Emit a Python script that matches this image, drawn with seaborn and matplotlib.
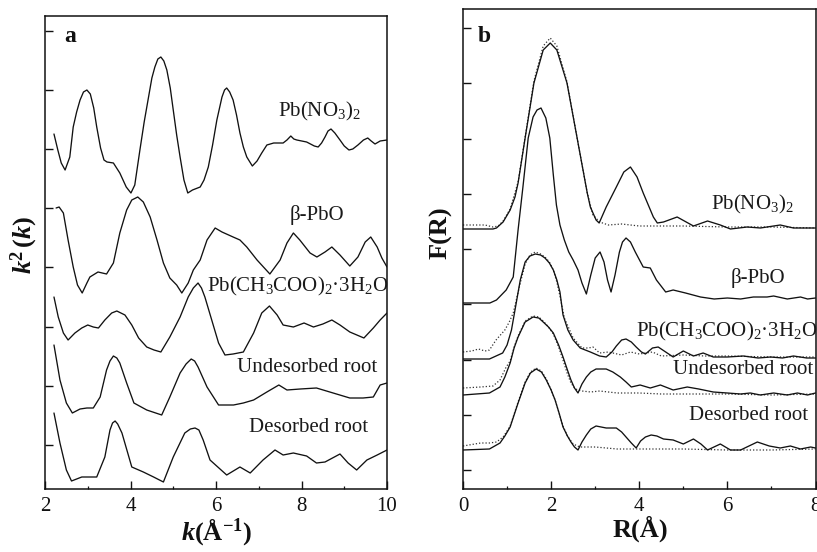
import matplotlib
matplotlib.use("Agg")
import matplotlib.pyplot as plt
import seaborn as sns
from matplotlib.ticker import FixedLocator, MultipleLocator

# ---------------- panel a : k^2 chi(k), stacked (arbitrary units) ----------------
K_NO3 = [2.21,2.30,2.38,2.47,2.58,2.66,2.74,2.82,2.90,2.98,3.06,3.14,3.21,3.30,3.38,3.45,3.60,3.75,3.90,4.01,
         4.10,4.22,4.32,4.41,4.50,4.57,4.64,4.71,4.78,4.85,4.93,5.00,5.08,5.16,5.25,5.34,5.45,5.63,5.72,5.82,
         5.92,6.02,6.14,6.20,6.25,6.32,6.40,6.48,6.56,6.64,6.72,6.85,6.96,7.07,7.19,7.35,7.57,7.66,7.75,7.82,
         7.89,8.12,8.30,8.39,8.47,8.55,8.62,8.69,8.78,8.90,9.00,9.11,9.20,9.32,9.45,9.55,9.63,9.72,9.84,10.0]
A_NO3 = [36.6,35.0,33.7,33.0,34.3,37.3,38.8,40.0,40.8,41.0,40.6,39.2,37.3,35.2,34.0,33.8,33.7,32.7,31.3,30.7,
         31.5,35.0,37.8,40.0,42.2,43.3,44.1,44.3,43.9,43.0,41.2,39.0,36.5,34.3,32.0,30.7,31.0,31.3,32.0,33.3,
         35.5,38.0,40.3,41.0,41.2,40.8,40.0,38.5,36.7,35.3,34.3,33.4,33.9,34.7,35.5,35.7,35.7,36.0,36.4,36.1,
         36.0,35.8,35.4,35.3,35.7,36.3,36.9,37.1,36.7,36.0,35.4,35.0,35.1,35.5,36.0,36.2,35.9,35.6,35.9,36.0]

K_PBO = [2.26,2.33,2.43,2.54,2.66,2.76,2.87,2.98,3.05,3.24,3.44,3.60,3.75,3.91,4.03,4.17,4.30,4.46,4.62,4.77,
         4.92,5.08,5.20,5.35,5.47,5.63,5.79,5.98,6.14,6.40,6.56,6.72,6.96,7.26,7.50,7.66,7.81,7.96,8.20,8.36,
         8.55,8.71,8.90,9.13,9.32,9.49,9.62,9.77,9.88,10.0]
A_PBO = [29.2,29.3,28.7,26.0,23.3,21.5,20.7,21.7,22.3,22.8,22.6,23.7,26.7,29.0,30.0,30.3,29.8,28.3,26.0,23.7,
         22.2,21.5,20.7,21.7,23.0,24.0,26.0,27.2,26.8,26.3,26.0,25.3,24.0,22.6,24.0,25.7,26.7,26.0,24.7,24.3,
         24.8,25.3,24.5,23.4,24.3,25.8,26.3,25.3,24.2,23.3]

K_AC = [2.21,2.31,2.43,2.54,2.70,2.86,3.00,3.13,3.25,3.40,3.56,3.68,3.87,4.03,4.19,4.38,4.55,4.71,4.92,5.16,
        5.35,5.47,5.58,5.66,5.74,5.90,6.06,6.21,6.40,6.64,6.88,7.07,7.25,7.43,7.57,7.81,8.06,8.28,8.50,8.71,
        8.90,9.13,9.46,9.68,9.84,10.0]
A_AC = [20.3,18.3,16.7,16.0,16.7,17.2,17.5,17.3,17.2,18.0,18.7,18.9,18.5,17.5,16.2,15.3,15.0,14.8,16.3,18.3,
        20.3,21.2,21.7,21.2,20.3,18.0,15.7,14.5,14.6,14.8,16.7,18.7,19.4,18.5,17.5,17.3,17.7,17.3,17.6,18.0,
        17.5,16.8,16.2,17.2,18.0,18.7]

K_UN = [2.21,2.35,2.50,2.64,2.82,2.98,3.13,3.29,3.44,3.52,3.60,3.68,3.75,3.91,4.08,4.38,4.73,4.92,5.16,5.30,
        5.42,5.50,5.58,5.79,6.06,6.41,6.64,6.88,7.19,7.47,7.66,7.97,8.35,8.74,9.13,9.44,9.68,9.84,10.0]
A_UN = [15.5,12.0,9.7,8.7,9.1,9.2,9.2,10.3,13.0,13.9,14.4,14.2,13.7,11.7,9.7,9.0,8.5,10.3,12.7,13.6,
        14.1,13.9,13.3,11.3,9.5,9.5,9.7,10.0,10.8,11.5,11.0,11.1,11.2,10.7,10.2,10.2,10.3,11.5,11.7]

K_DE = [2.21,2.35,2.50,2.62,2.86,3.21,3.40,3.52,3.58,3.64,3.70,3.80,4.03,4.30,4.54,4.77,5.00,5.27,5.40,5.51,
        5.60,5.70,5.86,6.25,6.56,6.80,7.10,7.38,7.57,7.81,8.12,8.35,8.55,8.90,9.09,9.29,9.53,9.77,10.0]
A_DE = [8.7,5.7,3.0,1.9,2.3,2.3,4.3,7.0,7.7,7.9,7.6,6.7,3.3,2.8,2.3,1.8,4.3,6.7,7.1,7.2,
        7.0,6.0,4.0,2.5,3.3,2.7,4.0,5.0,4.5,4.7,4.4,3.7,3.8,4.6,3.7,3.0,4.0,4.5,5.0]

# ---------------- panel b : F(R), stacked (arbitrary units) ----------------
R_NO3 = [0,0.5,0.68,0.76,0.91,1.07,1.18,1.25,1.41,1.61,1.82,1.98,2.13,2.36,2.59,2.82,2.89,3.02,3.09,3.25,
         3.48,3.65,3.80,3.95,4.09,4.32,4.41,4.55,4.86,5.23,5.55,5.84,6.07,6.45,6.75,7.20,7.50,8.0]
F_NO3 = [27.1,27.1,27.1,27.2,27.8,29.0,30.3,31.7,36.2,41.7,45.0,45.7,45.0,41.7,36.2,30.7,29.3,28.0,27.7,29.3,
         31.3,32.8,33.3,32.3,30.7,28.3,27.7,27.8,28.3,27.4,27.9,27.5,27.1,27.3,27.2,27.5,27.2,27.2]
RF_NO3 = [0,0.5,0.68,0.80,0.91,1.07,1.25,1.41,1.61,1.82,1.98,2.13,2.36,2.59,2.82,2.95,3.10,3.30,3.60,4.0,
          5.0,6.0,7.0,8.0]
FF_NO3 = [27.5,27.5,27.3,27.4,27.9,29.1,31.8,36.3,41.9,45.4,46.2,45.4,41.8,36.2,30.7,28.5,27.8,27.5,27.6,27.4,
          27.4,27.3,27.3,27.2]

R_PBO = [0,0.5,0.61,0.76,0.98,1.14,1.25,1.36,1.48,1.59,1.68,1.77,1.88,1.97,2.05,2.12,2.20,2.30,2.40,2.50,
         2.61,2.70,2.80,2.90,3.00,3.11,3.20,3.28,3.36,3.45,3.55,3.62,3.70,3.80,3.91,4.09,4.25,4.39,4.60,4.77,
         5.05,5.39,5.70,6.00,6.30,6.59,6.90,7.05,7.36,7.66,7.82,8.00]
F_PBO = [19.7,19.7,19.7,20.0,21.0,22.3,27.0,31.3,36.2,38.3,39.0,39.2,38.2,36.2,32.5,29.5,27.5,26.0,24.8,24.0,
         23.0,21.7,20.6,22.5,24.2,24.8,23.8,22.0,20.8,22.5,24.8,25.8,26.2,25.8,24.8,23.3,23.2,22.0,20.8,21.0,
         20.7,20.3,20.1,20.2,20.1,20.3,20.3,20.4,20.1,20.3,20.1,20.2]

R_AC = [0,0.6,0.9,1.0,1.1,1.2,1.3,1.41,1.52,1.64,1.76,1.86,1.96,2.05,2.13,2.2,2.27,2.38,2.5,2.66,
        2.89,3.1,3.25,3.38,3.48,3.6,3.7,3.82,3.93,4.05,4.14,4.3,4.43,4.6,4.77,5.0,5.23,5.45,5.68,6.0,
        6.36,6.7,6.98,7.25,7.5,7.8,8.0]
F_AC = [14.1,14.1,14.7,15.5,17.0,19.5,22.0,23.8,24.4,24.6,24.5,24.2,23.7,23.0,22.0,20.8,18.5,17.0,16.0,15.2,
        14.8,14.4,14.3,14.8,15.4,16.0,16.1,15.8,15.3,14.8,14.6,15.2,15.3,14.8,14.3,14.9,14.4,14.7,14.3,14.3,
        14.4,14.2,14.3,14.2,14.4,14.2,14.2]
RF_AC = [0,0.2,0.35,0.5,0.6,0.75,0.95,1.05,1.14,1.3,1.41,1.52,1.64,1.76,1.86,1.96,2.05,2.13,2.2,2.3,
         2.5,2.7,2.85,2.95,3.1,3.3,3.6,3.8,4.0,4.3,4.5,5.0,5.5,6.0,7.0,8.0]
FF_AC = [14.8,14.9,15.1,14.9,15.0,16.0,17.0,17.8,18.7,21.7,23.6,24.5,24.8,24.6,24.3,23.8,23.0,21.8,20.4,18.2,
         16.2,15.2,15.2,15.3,14.7,14.8,14.5,14.8,14.6,14.8,14.4,14.5,14.4,14.4,14.3,14.3]

R_UN = [0,0.6,0.84,0.95,1.07,1.16,1.25,1.41,1.59,1.72,1.82,1.94,2.05,2.17,2.27,2.37,2.45,2.53,2.61,2.70,
        2.80,2.90,3.02,3.25,3.40,3.57,3.70,3.82,4.02,4.25,4.48,4.77,5.09,5.35,5.68,6.00,6.30,6.52,6.75,7.05,
        7.36,7.59,7.82,8.00]
F_UN = [10.5,10.7,11.3,12.3,13.7,15.2,16.3,17.8,18.3,18.2,17.8,17.3,16.7,15.5,14.3,13.0,12.0,11.2,10.7,11.6,
        12.3,12.8,13.1,13.1,12.8,12.3,11.8,11.3,11.5,11.2,11.5,11.0,11.3,11.1,10.8,10.7,10.6,10.7,10.5,10.7,
        10.5,10.7,10.5,10.7]
RF_UN = [0,0.4,0.68,0.84,0.98,1.07,1.16,1.25,1.41,1.59,1.72,1.82,1.94,2.05,2.17,2.27,2.37,2.45,2.55,2.70,
         2.90,3.10,3.50,4.00,4.50,5.00,6.00,7.00,8.00]
FF_UN = [11.2,11.3,11.4,12.0,13.3,13.9,15.3,16.4,17.9,18.4,18.3,17.9,17.3,16.6,15.3,14.0,12.6,11.7,11.1,10.9,
         10.8,10.9,10.7,10.7,10.6,10.6,10.6,10.5,10.6]

R_DE = [0,0.6,0.84,0.95,1.07,1.16,1.25,1.41,1.53,1.66,1.78,1.89,2.00,2.09,2.18,2.27,2.37,2.45,2.53,2.61,
        2.70,2.80,2.90,3.02,3.25,3.48,3.60,3.70,3.82,3.93,4.03,4.14,4.27,4.40,4.55,4.77,5.00,5.23,5.40,5.55,
        5.84,6.07,6.30,6.68,6.95,7.20,7.43,7.66,7.89,8.00]
F_DE = [5.0,5.1,5.7,6.4,7.3,8.5,9.7,11.7,12.7,13.1,12.8,12.0,11.0,10.0,8.7,7.3,6.4,5.8,5.3,5.0,
        5.8,6.5,7.1,7.4,7.2,7.2,6.8,6.3,5.7,5.2,5.9,6.3,6.5,6.4,6.1,6.0,5.6,6.1,5.6,5.0,
        5.6,5.0,5.0,5.8,5.4,5.2,5.4,5.1,5.3,5.2]
RF_DE = [0,0.4,0.6,0.76,0.91,1.0,1.07,1.16,1.25,1.41,1.53,1.66,1.78,1.89,2.0,2.09,2.18,2.27,2.37,2.5,
         2.65,3.0,3.5,4.0,5.0,6.0,7.0,8.0]
FF_DE = [5.4,5.7,5.7,5.8,6.3,6.9,7.4,8.6,9.8,11.8,12.8,13.2,12.9,12.1,11.0,10.0,8.7,7.4,6.4,5.6,
         5.3,5.3,5.1,5.1,5.1,5.0,5.0,5.1]

LABELS = ["Pb(NO$_3$)$_2$", "β-PbO", "Pb(CH$_3$COO)$_2$·3H$_2$O", "Undesorbed root", "Desorbed root"]
XTICKS_A = [2, 4, 6, 8, 10]
XTICKS_B = [0, 2, 4, 6, 8]

# ---------------- style ----------------
sns.set_style("ticks")
plt.rcParams["font.family"] = ["Liberation Serif", "DejaVu Serif"]
plt.rcParams["mathtext.fontset"] = "custom"
plt.rcParams["mathtext.rm"] = "Liberation Serif"
plt.rcParams["mathtext.it"] = "Liberation Serif:italic"
plt.rcParams["mathtext.bf"] = "Liberation Serif:bold"
plt.rcParams["mathtext.bfit"] = "Liberation Serif:bold:italic"
plt.rcParams["axes.linewidth"] = 1.1

INK = "#111111"
fig = plt.figure(figsize=(8.17, 5.52), dpi=100)
W, H = 817.0, 552.0
axA = fig.add_axes([45 / W, 63 / H, 342 / W, 473 / H])
axB = fig.add_axes([463 / W, 63 / H, 352.5 / W, 480 / H])

solid_kw = dict(color=INK, linewidth=0.95, estimator=None, sort=False)
dot_kw = dict(color="#333333", linewidth=0.9, estimator=None, sort=False, linestyle=(0, (1, 1.6)))

for kx, ay in [(K_NO3, A_NO3), (K_PBO, A_PBO), (K_AC, A_AC), (K_UN, A_UN), (K_DE, A_DE)]:
    sns.lineplot(x=kx, y=ay, ax=axA, **solid_kw)

for rx, fy in [(RF_NO3, FF_NO3), (RF_AC, FF_AC), (RF_UN, FF_UN), (RF_DE, FF_DE)]:
    sns.lineplot(x=rx, y=fy, ax=axB, **dot_kw)
for rx, fy in [(R_NO3, F_NO3), (R_PBO, F_PBO), (R_AC, F_AC), (R_UN, F_UN), (R_DE, F_DE)]:
    sns.lineplot(x=rx, y=fy, ax=axB, **solid_kw)

axA.set_xlim(2, 10)
axA.set_ylim(1.1, 48.4)
axB.set_xlim(0, 8)
axB.set_ylim(1.1, 49.1)

for ax, xt in [(axA, XTICKS_A), (axB, XTICKS_B)]:
    ax.set_xticks(xt)
    ax.set_xticklabels([str(v) for v in xt])
    ax.xaxis.set_minor_locator(MultipleLocator(1))
    ax.tick_params(axis="x", which="major", direction="in", length=5.5, width=1.0,
                   labelsize=15, pad=6, colors=INK, top=False)
    ax.tick_params(axis="x", which="minor", direction="in", length=2.5, width=0.9,
                   colors=INK, top=False)
    ax.tick_params(axis="y", which="major", direction="in", length=6, width=1.0,
                   labelleft=False, right=False, colors=INK)
    for s in ax.spines.values():
        s.set_color(INK)
        s.set_linewidth(1.1)
        s.set_visible(True)

axA.yaxis.set_major_locator(FixedLocator([5.5, 11.4, 17.3, 23.3, 29.2, 35.1, 41.0, 46.9]))
axB.yaxis.set_major_locator(FixedLocator([3.0, 8.5, 14.05, 19.6, 25.1, 30.6, 36.15, 41.7, 47.2]))

axA.set_xlabel(r"$\mathbfit{k}\mathbf{(Å^{-1})}$", fontsize=19, color=INK)
axA.set_ylabel(r"$\mathbfit{k}^{\mathbf{2}}\,\mathbf{(}\mathbfit{k}\mathbf{)}$", fontsize=19, color=INK)
axB.set_xlabel("R(Å)", fontsize=19, fontweight="bold", color=INK)
axB.set_ylabel("F(R)", fontsize=19, fontweight="bold", color=INK)
axA.xaxis.set_label_coords(0.503, -0.058)
axB.xaxis.set_label_coords(0.502, -0.056)
axA.yaxis.set_label_coords(-0.015, 0.516)
axB.yaxis.set_label_coords(-0.031, 0.533)

axA.text(2.58, 46.4, "a", fontsize=17, fontweight="bold", ha="center", va="center", color=INK)
axB.text(0.48, 46.4, "b", fontsize=17, fontweight="bold", ha="center", va="center", color=INK)

lab_kw = dict(fontsize=15, ha="center", va="center", color="#1a1a1a")
posA = [(8.42, 38.9), (8.35, 28.5), (7.92, 21.4), (8.12, 13.3), (8.16, 7.2)]
posB = [(6.57, 29.6), (6.69, 22.2), (5.98, 16.9), (6.35, 13.0), (6.47, 8.5)]
for lab, (x, y) in zip(LABELS, posA):
    axA.text(x, y, lab, **lab_kw)
for lab, (x, y) in zip(LABELS, posB):
    axB.text(x, y, lab, **lab_kw)

fig.savefig("out.png", dpi=100)
